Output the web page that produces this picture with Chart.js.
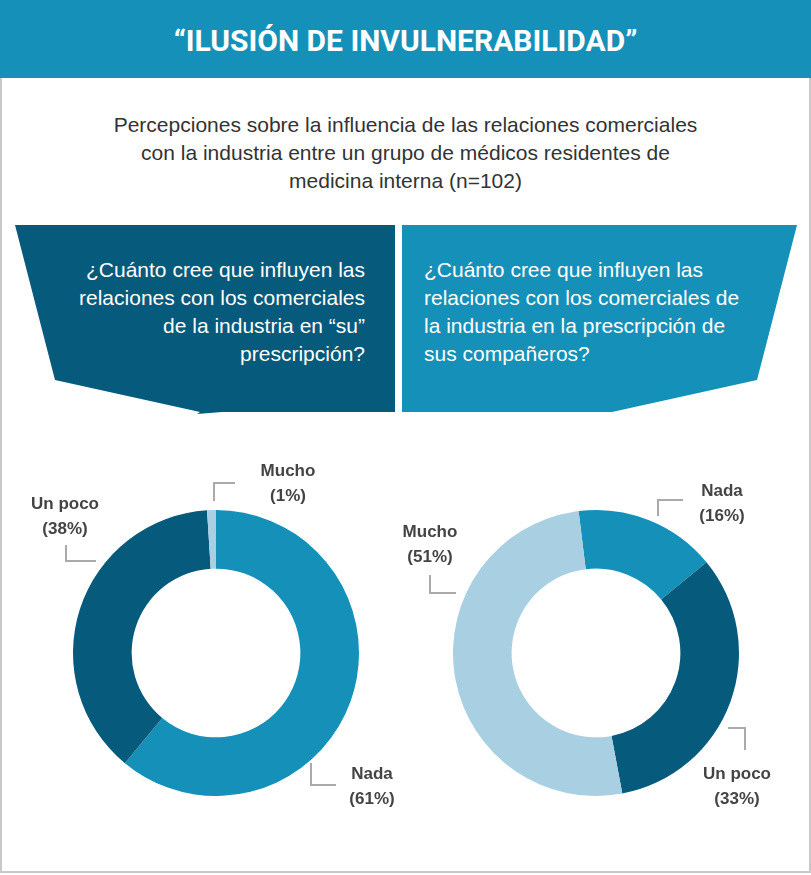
<!DOCTYPE html>
<html><head><meta charset="utf-8">
<script src="https://cdn.jsdelivr.net/npm/chart.js@4"></script>
<style>
body{margin:0;width:811px;height:875px;position:relative;background:#fff;font-family:"Liberation Sans Narrow","Roboto","Liberation Sans",sans-serif;overflow:hidden}
#frame{position:absolute;left:0;top:0;width:807px;height:869px;border:2px solid #c9c9c9}
#hdr{position:absolute;left:0;top:0;width:811px;height:78px;background:#1591b9;color:#fff;font:bold 30px "Liberation Sans Narrow","Roboto",sans-serif;text-align:center;line-height:82px}
#sub{position:absolute;left:0;top:111px;width:811px;text-align:center;color:#333;font:21px "Liberation Sans","Roboto",sans-serif;line-height:28px}
.q{position:absolute;color:#fff;font:21px "Liberation Sans","Roboto",sans-serif;line-height:28px}
.lab{position:absolute;color:#444;font:bold 17px "Liberation Sans","Roboto",sans-serif;text-align:center;line-height:25px;width:120px}
canvas{position:absolute}
svg{position:absolute;left:0;top:0}
</style></head><body>
<div id="frame"></div>
<div id="hdr">“ILUSIÓN DE INVULNERABILIDAD”</div>
<div id="sub">Percepciones sobre la influencia de las relaciones comerciales<br>con la industria entre un grupo de médicos residentes de<br>medicina interna (n=102)</div>
<svg width="811" height="875">
<polygon points="15,225 395,225 395,412 222,412 197,414 200,412 55,380" fill="#065a7c"/>
<polygon points="402,225 797,225 757,380 612,412 616,412 402,412" fill="#1591b9"/>
<g stroke="#aaa" stroke-width="2" fill="none">
<polyline points="235,483 214,483 214,501"/>
<polyline points="66,545 66,561 96,561"/>
<polyline points="311,763 311,785 336,785"/>
<polyline points="683,500 658,500 658,516"/>
<polyline points="430,575 430,593 456,593"/>
<polyline points="728,728 745,728 745,750"/>
</g>
</svg>
<div class="q" style="right:446px;top:256px;text-align:right">¿Cuánto cree que influyen las<br>relaciones con los comerciales<br>de la industria en “su”<br>prescripción?</div>
<div class="q" style="left:424px;top:256px">¿Cuánto cree que influyen las<br>relaciones con los comerciales de<br>la industria en la prescripción de<br>sus compañeros?</div>
<canvas id="c1" width="300" height="300" style="left:66px;top:503px;width:300px;height:300px"></canvas>
<canvas id="c2" width="300" height="300" style="left:446px;top:503px;width:300px;height:300px"></canvas>
<div id="labs"></div>
<script>
const categories1=["Nada","Un poco","Mucho"];
const values1=[61,38,1];
const categories2=["Nada","Un poco","Mucho"];
const values2=[16,33,51];
const colorMap={"Nada":"#1591b9","Un poco":"#065a7c","Mucho":"#a9cfe2"};
const labelPos1={"Mucho":[288,458],"Un poco":[65,491],"Nada":[372,761]};
const labelPos2={"Nada":[722,478],"Mucho":[430,519],"Un poco":[737,761]};
function mk(id,cats,vals,rot){
 new Chart(document.getElementById(id),{type:'doughnut',
  data:{labels:cats,datasets:[{data:vals,backgroundColor:cats.map(c=>colorMap[c]),borderWidth:0}]},
  options:{responsive:false,animation:false,rotation:rot,cutout:'59%',layout:{padding:7},
   plugins:{legend:{display:false},tooltip:{enabled:false}}}});
}
mk('c1',categories1,values1,0);
mk('c2',categories2,values2,-7);
const L=document.getElementById('labs');
function lab(cats,vals,pos){cats.forEach((c,i)=>{const d=document.createElement('div');d.className='lab';
 d.style.left=(pos[c][0]-60)+'px';d.style.top=pos[c][1]+'px';d.innerHTML=c+'<br>('+vals[i]+'%)';L.appendChild(d);});}
lab(categories1,values1,labelPos1);lab(categories2,values2,labelPos2);
</script>
</body></html>
